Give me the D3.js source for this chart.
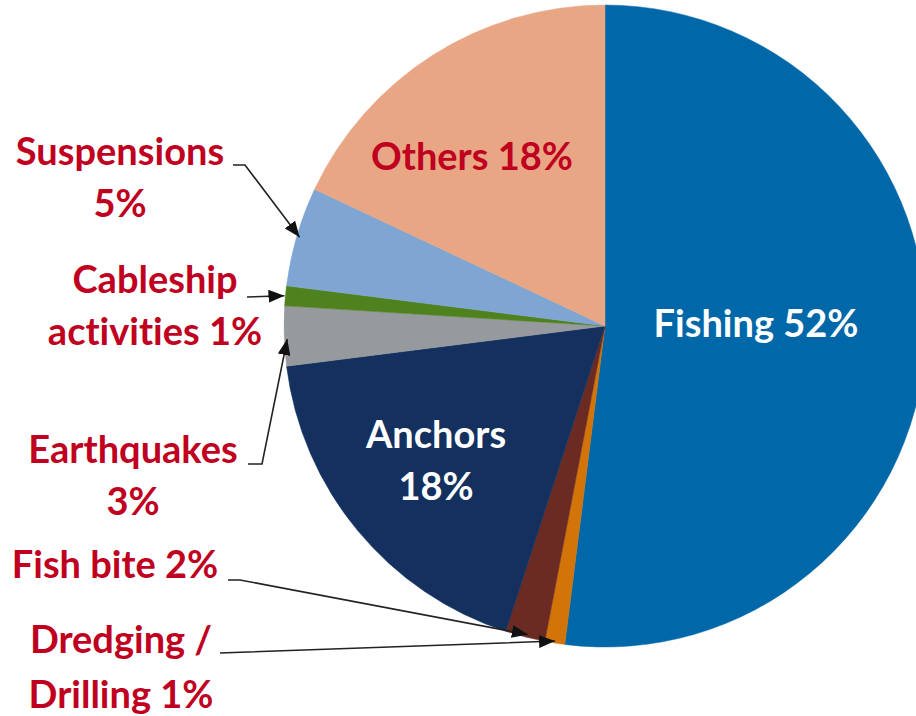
<!DOCTYPE html>
<html>
<head>
<meta charset="utf-8">
<script src="https://cdn.jsdelivr.net/npm/d3@7"></script>
<style>
  html, body { margin: 0; padding: 0; background: #fff; }
  svg { display: block; }
  text { font-family: Lato, "Open Sans", sans-serif; font-weight: 700; font-variant-ligatures: none; }
</style>
</head>
<body>
<svg id="chart" width="916" height="716"></svg>
<script>
// Causes of submarine cable faults, share of all faults (%)
const causes = ["Fishing", "Dredging / Drilling", "Fish bite", "Anchors",
                "Earthquakes", "Cableship activities", "Suspensions", "Others"];
const shares = [52, 1, 2, 18, 3, 1, 5, 18];
const colors = ["#0068A8", "#D27408", "#6B2A22", "#13305F",
                "#969A9E", "#4F821F", "#7FA5D3", "#E8A684"];

const svg = d3.select("#chart");
const cx = 605, cy = 326, radius = 321;
const labelRed = "#C0001F";

const pie = d3.pie().sort(null).value(d => d.value);
const arc = d3.arc().innerRadius(0).outerRadius(radius);
const data = causes.map((c, i) => ({ cause: c, value: shares[i], color: colors[i] }));
const arcs = pie(data);

const g = svg.append("g").attr("transform", `translate(${cx},${cy})`);
g.selectAll("path.slice")
  .data(arcs)
  .join("path")
  .attr("class", "slice")
  .attr("d", arc)
  .attr("fill", d => d.data.color)
  .attr("stroke", d => d.data.color)
  .attr("stroke-width", 0.5);

// Arrowhead for the leader lines
svg.append("defs").append("marker")
  .attr("id", "arrow")
  .attr("viewBox", "0 0 10 8")
  .attr("refX", 10).attr("refY", 4)
  .attr("markerWidth", 10).attr("markerHeight", 8)
  .attr("markerUnits", "strokeWidth")
  .attr("orient", "auto")
  .append("path")
  .attr("d", "M0,0 L10,4 L0,8 Z")
  .attr("fill", "#111");

// Point on the rim of a slice at a fraction t of its angular span
function rimPoint(i, t, r = radius) {
  const a = arcs[i].startAngle + (arcs[i].endAngle - arcs[i].startAngle) * t;
  return [cx + r * Math.sin(a), cy - r * Math.cos(a)];
}

// Labels in the slices
const inner = [
  { i: 0, lines: ["Fishing 52%"], x: 756, y: 337, fill: "#fff" },
  { i: 7, lines: ["Others 18%"], x: 472, y: 170, fill: labelRed },
  { i: 3, lines: ["Anchors", "18%"], x: 436, y: 448, fill: "#fff" }
];
// Outside labels with leader lines: text lines, anchor, elbow path start, rim fraction
const outer = [
  { i: 6, lines: ["Suspensions", "5%"], x: 120, y: 165, lead: [[233, 165], [245, 165]], t: 0.5, r: radius - 3 },
  { i: 5, lines: ["Cableship", "activities 1%"], x: 155, y: 293, lead: [[247, 297]], t: 0.5, r: radius + 1 },
  { i: 4, lines: ["Earthquakes", "3%"], x: 133, y: 463, lead: [[248, 464], [262, 464]], t: 0.45, r: radius - 3 },
  { i: 2, lines: ["Fish bite 2%"], x: 115, y: 578, lead: [[228, 580], [240, 580]], t: 0.45, r: radius - 3 },
  { i: 1, lines: ["Dredging /", "Drilling 1%"], x: 121, y: 653, lead: [[220, 653], [248, 652]], t: 0.5, r: radius - 2 }
];

const lineGap = 52;
const fontSize = 38;

function drawText(lbl) {
  const t = svg.append("text")
    .attr("x", lbl.x).attr("y", lbl.y)
    .attr("text-anchor", "middle")
    .attr("font-size", fontSize)
    .attr("fill", lbl.fill || labelRed);
  lbl.lines.forEach((s, k) => {
    t.append("tspan").attr("x", lbl.x).attr("y", lbl.y + k * (lbl.gap || lineGap)).text(s);
  });
}

inner.forEach(drawText);
outer.forEach(lbl => {
  if (lbl.i === 1) lbl.gap = 55;
  drawText(lbl);
  const tip = rimPoint(lbl.i, lbl.t, lbl.r);
  const pts = lbl.lead.concat([tip]);
  svg.append("path")
    .attr("d", d3.line()(pts))
    .attr("fill", "none")
    .attr("stroke", "#222")
    .attr("stroke-width", 1.6)
    .attr("marker-end", "url(#arrow)");
});
</script>
</body>
</html>
